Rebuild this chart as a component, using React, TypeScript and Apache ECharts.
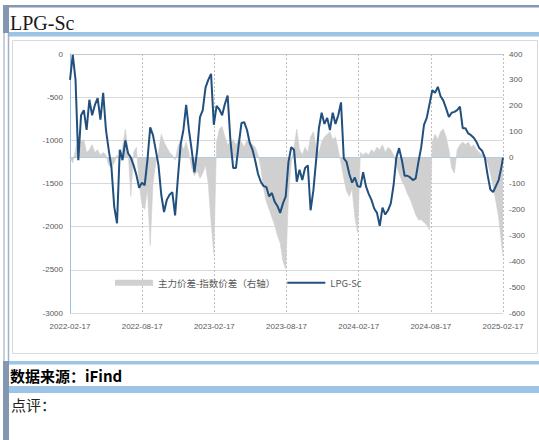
import React, { useEffect, useRef } from "react";
import * as echarts from "echarts";

// Weekly observation dates
const dates: string[] = [
  "2022-02-17","2022-02-24","2022-03-03","2022-03-10","2022-03-17","2022-03-24","2022-03-31","2022-04-07","2022-04-14","2022-04-21",
  "2022-04-28","2022-05-05","2022-05-12","2022-05-19","2022-05-26","2022-06-02","2022-06-09","2022-06-16","2022-06-23","2022-06-30",
  "2022-07-07","2022-07-14","2022-07-21","2022-07-28","2022-08-04","2022-08-11","2022-08-18","2022-08-25","2022-09-01","2022-09-08",
  "2022-09-15","2022-09-22","2022-09-29","2022-10-06","2022-10-13","2022-10-20","2022-10-27","2022-11-03","2022-11-10","2022-11-17",
  "2022-11-24","2022-12-01","2022-12-08","2022-12-15","2022-12-22","2022-12-29","2023-01-05","2023-01-12","2023-01-19","2023-01-26",
  "2023-02-02","2023-02-09","2023-02-16","2023-02-23","2023-03-02","2023-03-09","2023-03-16","2023-03-23","2023-03-30","2023-04-06",
  "2023-04-13","2023-04-20","2023-04-27","2023-05-04","2023-05-11","2023-05-18","2023-05-25","2023-06-01","2023-06-08","2023-06-15",
  "2023-06-22","2023-06-29","2023-07-06","2023-07-13","2023-07-20","2023-07-27","2023-08-03","2023-08-10","2023-08-17","2023-08-24",
  "2023-08-31","2023-09-07","2023-09-14","2023-09-21","2023-09-28","2023-10-05","2023-10-12","2023-10-19","2023-10-26","2023-11-02",
  "2023-11-09","2023-11-16","2023-11-23","2023-11-30","2023-12-07","2023-12-14","2023-12-21","2023-12-28","2024-01-04","2024-01-11",
  "2024-01-18","2024-01-25","2024-02-01","2024-02-08","2024-02-15","2024-02-22","2024-02-29","2024-03-07","2024-03-14","2024-03-21",
  "2024-03-28","2024-04-04","2024-04-11","2024-04-18","2024-04-25","2024-05-02","2024-05-09","2024-05-16","2024-05-23","2024-05-30",
  "2024-06-06","2024-06-13","2024-06-20","2024-06-27","2024-07-04","2024-07-11","2024-07-18","2024-07-25","2024-08-01","2024-08-08",
  "2024-08-15","2024-08-22","2024-08-29","2024-09-05","2024-09-12","2024-09-19","2024-09-26","2024-10-03","2024-10-10","2024-10-17",
  "2024-10-24","2024-10-31","2024-11-07","2024-11-14","2024-11-21","2024-11-28","2024-12-05","2024-12-12","2024-12-19","2024-12-26",
  "2025-01-02","2025-01-09","2025-01-16","2025-01-23","2025-01-30","2025-02-06","2025-02-13","2025-02-17"
];

// LPG-Sc (left axis)
const lpgSc: number[] = [
  -300, -10, -300, -1230, -710, -650, -880, -530, -710, -590,
  -510, -760, -450, -880, -1110, -1320, -1770, -1960, -1110, -1230,
  -1000, -1150, -1200, -1290, -1400, -1550, -1490, -1520, -1230, -850,
  -940, -1110, -1290, -1630, -1830, -1690, -1630, -1600, -1870, -1440,
  -1050, -880, -590, -880, -1110, -1370, -1110, -730, -650, -390,
  -300, -230, -820, -600, -640, -710, -580, -480, -1000, -1320,
  -1320, -1050, -800, -790, -880, -1030, -1110, -1240, -1390, -1480,
  -1530, -1540, -1650, -1610, -1710, -1760, -1840, -1730, -1650, -1250,
  -1080, -1110, -1480, -1340, -1460, -1320, -1290, -1810, -1580, -1230,
  -860, -680, -810, -740, -880, -680, -810, -710, -560, -1210,
  -1250, -1390, -1490, -1430, -1530, -1540, -1370, -1530, -1620, -1690,
  -1790, -1840, -1990, -1780, -1860, -1810, -1730, -1520, -1200, -1090,
  -1230, -1410, -1410, -1430, -1460, -1440, -1250, -1080, -820, -740,
  -580, -420, -450, -380, -490, -540, -630, -730, -680, -670,
  -650, -610, -860, -860, -920, -940, -970, -1020, -1090, -1120,
  -1200, -1400, -1570, -1600, -1530, -1460, -1310, -1200
];

// 主力价差-指数价差 (right axis)
const spread: number[] = [
  0, -20, 30, 80, 60, 70, 20, 30, 50, 20,
  30, 10, 20, 10, -30, -40, -20, 10, -10, 40,
  110, 30, -150, 20, 40, -100, -180, -200, -120, -340,
  -100, -20, 20, 90, 60, 40, 20, 10, -10, 40,
  70, 30, 60, 20, -40, -70, -50, -80, -60, -30,
  -100, -250, -370, 60, 110, 120, 80, 50, 60, 70,
  50, 70, 60, 40, 70, 60, 50, 40, 10, -40,
  -120, -170, -200, -230, -260, -300, -330, -400, -430, -150,
  -20, 40, 110, 30, 10, 40, 20, 80, 100, 40,
  20, 60, 80, 90, 100, 70, 80, 30, -20, -80,
  -130, -150, -120, -230, -290, 20, 10, 20, 10, 30,
  20, 40, 30, 50, 20, 40, 30, 10, -30, -60,
  -90, -110, -140, -160, -190, -220, -240, -240, -250, -260,
  -280, 60, 90, 70, 100, 110, 80, 30, -40, -60,
  30, 50, 60, 50, 60, 40, 50, 30, 20, 10,
  0, -20, -60, -110, -170, -230, -330, -380
];

const xTickLabels: string[] = [
  "2022-02-17", "2022-08-17", "2023-02-17", "2023-08-17", "2024-02-17", "2024-08-17", "2025-02-17"
];

const LINE_NAME = "LPG-Sc";
const AREA_NAME = "主力价差-指数价差（右轴）";

export default function App() {
  const ref = useRef<HTMLDivElement>(null);
  useEffect(() => {
    const el = ref.current;
    if (!el) return;
    const chart = echarts.init(el, null, { renderer: "svg" });
    const parse = (s: string) => {
      const [y, m, d] = s.split("-").map(Number);
      return Date.UTC(y, m - 1, d);
    };
    const t0 = parse(xTickLabels[0]);
    const tEnd = parse(xTickLabels[xTickLabels.length - 1]);
    const unit = (tEnd - t0) / (xTickLabels.length - 1);
    const toX = (s: string) => (parse(s) - t0) / unit;
    const lineData = dates.map((d, i) => [toX(d), lpgSc[i]]);
    const areaData = dates.map((d, i) => [toX(d), spread[i]]);

    const axisFont = { fontSize: 8, color: "#595959", fontFamily: "Liberation Sans, Arial, sans-serif" };
    const frameDark = "#8497b0";
    const frameLine = "#a3b1c4";
    const bandBlue = "#9dc3e6";
    const lineColor = "#21507e";
    const areaColor = "#d0d0d0";

    chart.setOption({
      animation: false,
      backgroundColor: "#ffffff",
      grid: { left: 70, right: 36, top: 54, bottom: 127, containLabel: false },
      legend: {
        left: 115,
        top: 278,
        padding: 0,
        itemWidth: 38,
        itemHeight: 6,
        itemGap: 12,
        textStyle: { fontSize: 9.5, color: "#595959", fontFamily: "Noto Sans CJK SC, sans-serif" },
        data: [
          { name: AREA_NAME, icon: "rect", itemStyle: { color: areaColor } },
          { name: LINE_NAME, icon: "path://M0,0L38,0L38,2L0,2Z", itemStyle: { color: lineColor } },
        ],
      },
      xAxis: [
        {
          type: "value",
          min: 0,
          max: xTickLabels.length - 1,
          interval: 1,
          axisLine: { show: true, lineStyle: { color: "#c8c8c8", width: 1 } },
          axisTick: { show: false },
          axisLabel: {
            ...axisFont,
            margin: 9,
            formatter: (v: number) => xTickLabels[Math.round(v)] ?? "",
          },
          splitLine: { show: true, lineStyle: { color: "#bfbfbf", type: [2, 2], width: 1 } },
        },
        {
          type: "value",
          position: "top",
          min: 0,
          max: xTickLabels.length - 1,
          interval: 1,
          axisLine: { show: true, lineStyle: { color: bandBlue, width: 1 } },
          axisTick: { show: false },
          axisLabel: { show: false },
          splitLine: { show: false },
        },
      ],
      yAxis: [
        {
          type: "value",
          min: -3000,
          max: 0,
          interval: 500,
          position: "left",
          axisLine: { show: true, lineStyle: { color: bandBlue, width: 1 } },
          axisTick: { show: false },
          axisLabel: { ...axisFont, margin: 7, formatter: (v: number) => String(v) },
          splitLine: { show: true, lineStyle: { color: "#d9d9d9", width: 1 } },
        },
        {
          type: "value",
          min: -600,
          max: 400,
          interval: 100,
          position: "right",
          axisLine: { show: false },
          axisTick: { show: false },
          axisLabel: { ...axisFont, margin: 6, formatter: (v: number) => String(v) },
          splitLine: { show: false },
        },
      ],
      series: [
        {
          name: AREA_NAME,
          type: "line",
          xAxisIndex: 0,
          yAxisIndex: 1,
          data: areaData,
          symbol: "none",
          showSymbol: false,
          lineStyle: { width: 0.6, color: areaColor },
          itemStyle: { color: areaColor },
          areaStyle: { color: areaColor, opacity: 1 },
          z: 2,
        },
        {
          name: LINE_NAME,
          type: "line",
          xAxisIndex: 0,
          yAxisIndex: 0,
          data: lineData,
          symbol: "none",
          showSymbol: false,
          lineStyle: { width: 2, color: lineColor },
          itemStyle: { color: lineColor },
          z: 3,
        },
      ],
      graphic: [
        { type: "rect", shape: { x: 3, y: 5, width: 536, height: 2.5 }, style: { fill: frameDark }, silent: true },
        { type: "rect", shape: { x: 3, y: 5, width: 6, height: 28 }, style: { fill: frameDark }, silent: true },
        { type: "rect", shape: { x: 9, y: 32, width: 530, height: 4.5 }, style: { fill: bandBlue }, silent: true },
        { type: "line", shape: { x1: 4, y1: 33, x2: 4, y2: 361 }, style: { stroke: frameLine, lineWidth: 1.2 }, silent: true },
        { type: "line", shape: { x1: 8.5, y1: 33, x2: 8.5, y2: 361 }, style: { stroke: frameLine, lineWidth: 1.5 }, silent: true },
        { type: "rect", shape: { x: 12.5, y: 40.5, width: 525, height: 313 }, style: { fill: "none", stroke: "#d9d9d9", lineWidth: 1 }, silent: true },
        { type: "rect", shape: { x: 9, y: 361, width: 530, height: 3.5 }, style: { fill: bandBlue }, silent: true },
        { type: "rect", shape: { x: 9, y: 386, width: 530, height: 7 }, style: { fill: bandBlue }, silent: true },
        { type: "rect", shape: { x: 3, y: 361, width: 6, height: 79 }, style: { fill: frameDark }, silent: true },
        {
          type: "text",
          x: 10,
          y: 23,
          style: {
            text: "LPG-Sc",
            fill: "#1a1a1a",
            font: "20px 'Liberation Serif', 'Times New Roman', serif",
            verticalAlign: "middle",
            align: "left",
          },
          silent: true,
        },
        {
          type: "text",
          x: 10,
          y: 375,
          style: {
            text: "数据来源：iFind",
            fill: "#000000",
            font: "bold 15px 'Noto Sans CJK SC', sans-serif",
            verticalAlign: "middle",
            align: "left",
          },
          silent: true,
        },
        {
          type: "text",
          x: 11,
          y: 404,
          style: {
            text: "点评：",
            fill: "#222222",
            font: "15px 'Noto Sans CJK SC', sans-serif",
            verticalAlign: "middle",
            align: "left",
          },
          silent: true,
        },
      ],
    });
    return () => {
      chart.dispose();
    };
  }, []);
  return (
    <div
      ref={ref}
      style={{ position: "fixed", left: 0, top: 0, width: 539, height: 440, background: "#fff" }}
    />
  );
}
